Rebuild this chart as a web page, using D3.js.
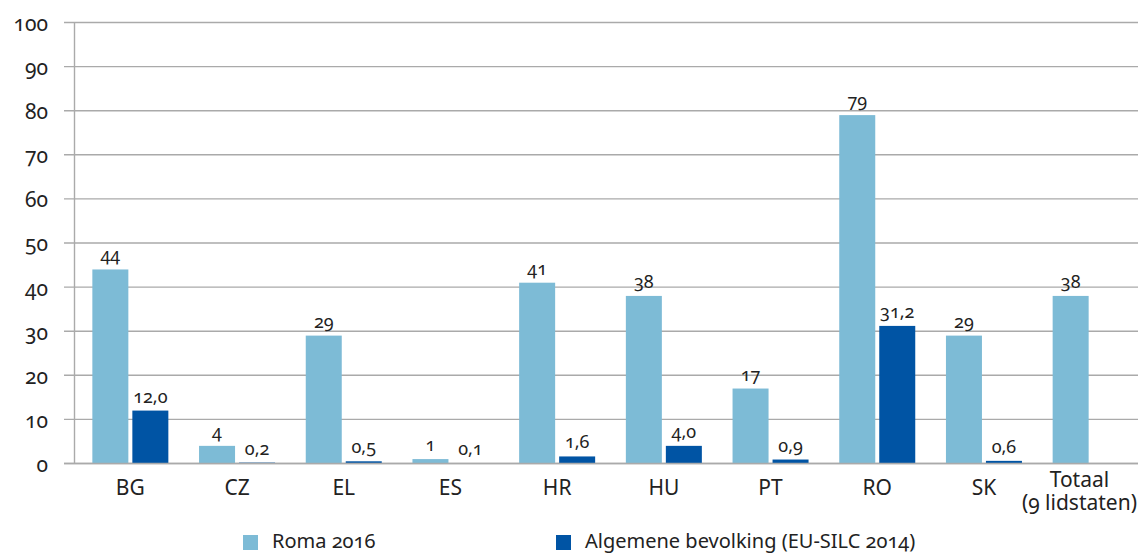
<!DOCTYPE html>
<html>
<head>
<meta charset="utf-8">
<script src="https://cdn.jsdelivr.net/npm/d3@7"></script>
<style>
  html, body { margin: 0; padding: 0; background: #fff; }
  svg { display: block; font-family: "Noto Sans", sans-serif; font-variant-numeric: oldstyle-nums; font-feature-settings: "onum" 1; }
</style>
</head>
<body>
<svg id="chart" width="1138" height="554"></svg>
<script>
const categories = ["BG", "CZ", "EL", "ES", "HR", "HU", "PT", "RO", "SK", "Totaal\n(9 lidstaten)"];
const seriesNames = ["Roma 2016", "Algemene bevolking (EU-SILC 2014)"];
const roma2016 = [44, 4, 29, 1, 41, 38, 17, 79, 29, 38];
const algemeneBevolking = [12.0, 0.2, 0.5, 0.1, 1.6, 4.0, 0.9, 31.2, 0.6, null];
const yTicks = [0, 10, 20, 30, 40, 50, 60, 70, 80, 90, 100];
const colors = ["#7dbbd6", "#0054a4"];

const W = 1138, H = 554;
const svg = d3.select("#chart");

const x = d3.scaleBand().domain(categories).range([77, 1144]).paddingInner(0).paddingOuter(0);
const x1 = d3.scaleBand().domain([0, 1]).range([-38, 38]).paddingInner(0.1).paddingOuter(0);
const y = d3.scaleLinear().domain([0, 100]).range([463.5, 22.5]);

// gridlines + y axis line
const gy = svg.append("g");
gy.selectAll("line.grid").data(yTicks).join("line")
  .attr("class", "grid")
  .attr("x1", 64).attr("x2", W)
  .attr("y1", d => y(d)).attr("y2", d => y(d))
  .attr("stroke", "#aaaaaa").attr("stroke-width", 1.4);
gy.append("line")
  .attr("x1", 74.5).attr("x2", 74.5)
  .attr("y1", y(100)).attr("y2", y(0))
  .attr("stroke", "#aaaaaa").attr("stroke-width", 1.4);

const yAxis = d3.axisLeft(y).tickValues(yTicks).tickSize(0).tickPadding(0).tickFormat(d3.format("d"));
const axisG = svg.append("g").attr("transform", "translate(48,0)").call(yAxis);
axisG.select(".domain").remove();
axisG.selectAll("text")
  .attr("font-size", 21).attr("fill", "#222")
  .attr("font-family", "Noto Sans, sans-serif")
  .attr("dy", "0.38em");

// bars
const seriesData = [roma2016, algemeneBevolking];
const fmt = [d => String(d), d => d.toFixed(1).replace(".", ",")];

seriesData.forEach((vals, si) => {
  const g = svg.append("g");
  const pts = categories.map((c, i) => ({ c, v: vals[i] })).filter(d => d.v != null);
  g.selectAll("rect").data(pts).join("rect")
    .attr("x", d => x(d.c) + x.bandwidth() / 2 + x1(si))
    .attr("width", x1.bandwidth())
    .attr("y", d => y(d.v))
    .attr("height", d => y(0) - y(d.v))
    .attr("fill", colors[si]);
  g.selectAll("text").data(pts).join("text")
    .attr("x", d => x(d.c) + x.bandwidth() / 2 + x1(si) + x1.bandwidth() / 2)
    .attr("y", d => y(d.v) - 8)
    .attr("text-anchor", "middle")
    .attr("font-size", 18)
    .attr("fill", "#222")
    .text(d => fmt[si](d.v));
});

// zero line on top
svg.append("line")
  .attr("x1", 64).attr("x2", W)
  .attr("y1", y(0)).attr("y2", y(0))
  .attr("stroke", "#aaaaaa").attr("stroke-width", 1.6);

// x labels
const xl = svg.append("g");
categories.forEach(c => {
  const lines = c.split("\n");
  const t = xl.append("text")
    .attr("text-anchor", "middle")
    .attr("font-size", 21)
    .attr("fill", "#222");
  const cx = x(c) + x.bandwidth() / 2;
  const baseY = lines.length > 1 ? 487 : 495;
  lines.forEach((ln, k) => {
    t.append("tspan").attr("x", cx).attr("y", baseY + k * 23).text(ln);
  });
  const bb = t.node().getBBox();
  if (bb.x + bb.width > W - 1) {
    const shift = bb.x + bb.width - (W - 1);
    t.selectAll("tspan").attr("x", cx - shift);
  }
});

// legend
const legendX = [243, 556];
seriesNames.forEach((name, i) => {
  const g = svg.append("g").attr("transform", `translate(${legendX[i]},0)`);
  g.append("rect").attr("x", 0).attr("y", 535).attr("width", 15).attr("height", 15).attr("fill", colors[i]);
  g.append("text").attr("x", 29).attr("y", 548).attr("font-size", 20).attr("fill", "#222").text(name);
});
</script>
</body>
</html>
